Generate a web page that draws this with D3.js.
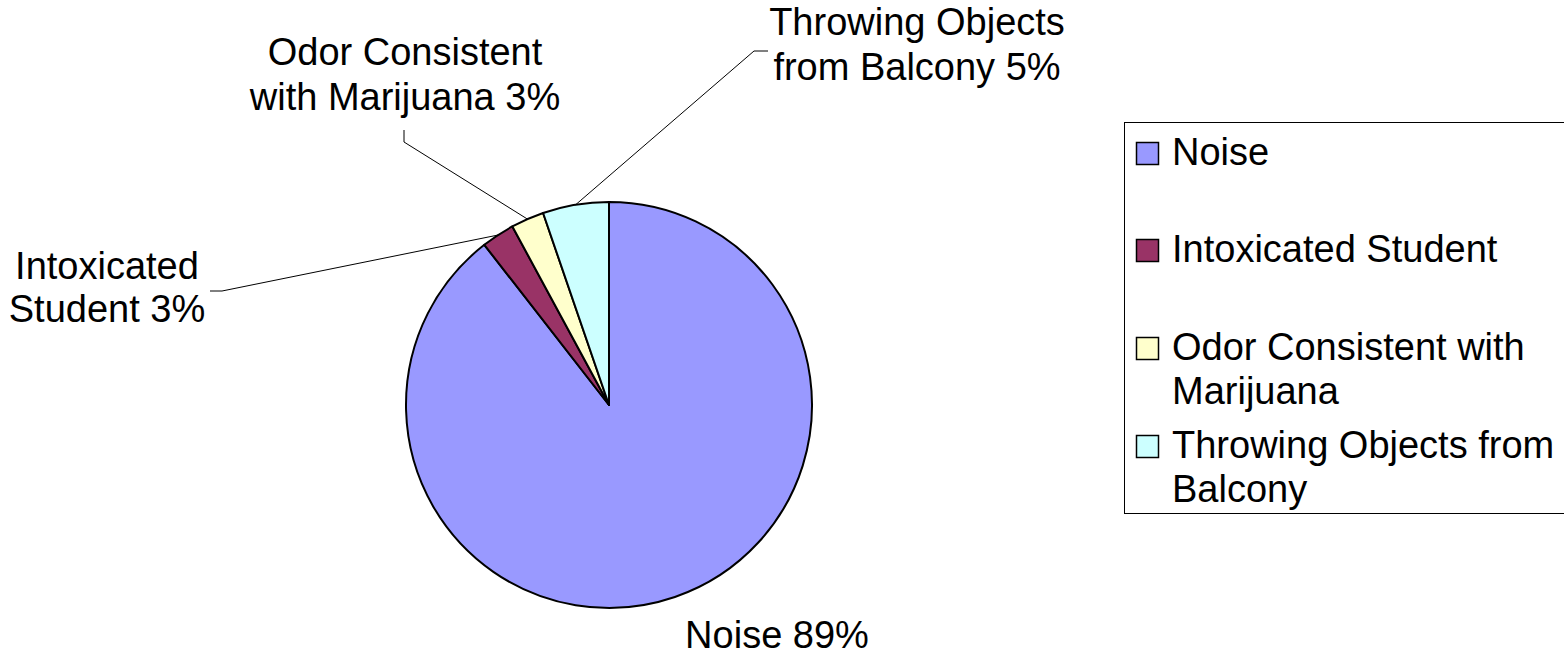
<!DOCTYPE html>
<html>
<head>
<meta charset="utf-8">
<script src="https://cdn.jsdelivr.net/npm/d3@7"></script>
<style>
  html, body { margin: 0; padding: 0; background: #fff; }
  svg { display: block; }
  text { font-family: "Liberation Sans", Arial, sans-serif; fill: #000; }
</style>
</head>
<body>
<svg id="chart" width="1564" height="655"></svg>
<script>
// ---- data ----
const categories = ["Noise", "Intoxicated Student", "Odor Consistent with Marijuana", "Throwing Objects from Balcony"];
const counts = [34, 1, 1, 2];
const colors = ["#9999FF", "#993366", "#FFFFCC", "#CCFFFF"];
// label text lines (name part, percentage appended from data)
const labelNameLines = [["Noise"], ["Intoxicated", "Student"], ["Odor Consistent", "with Marijuana"], ["Throwing Objects", "from Balcony"]];
const legendLines = [["Noise"], ["Intoxicated Student"], ["Odor Consistent with", "Marijuana"], ["Throwing Objects from", "Balcony"]];

// ---- layout ----
const W = 1564, H = 655;
const cx = 609, cy = 405, R = 203;
const fontSize = 38;
const labelLayout = [
  { x: 777, y: 648, lh: 44, pts: null },
  { x: 107, y: 279, lh: 43, pts: [[222, 291], [210, 291]] },
  { x: 405, y: 65, lh: 45, pts: [[404, 142], [404, 130]] },
  { x: 917, y: 35, lh: 45, pts: [[754, 51], [768, 51]] }
];

const svg = d3.select("#chart");
const total = d3.sum(counts);
const pct = counts.map(v => Math.round(100 * v / total) + "%");

const pie = d3.pie().sort(null).value(d => d).startAngle(0).endAngle(2 * Math.PI);
const arcs = pie(counts);
const arc = d3.arc().innerRadius(0).outerRadius(R);
const edgeArc = d3.arc().innerRadius(R).outerRadius(R);

const g = svg.append("g").attr("transform", `translate(${cx},${cy})`);
g.selectAll("path.slice").data(arcs).join("path")
  .attr("class", "slice")
  .attr("d", arc)
  .attr("fill", (d, i) => colors[i])
  .attr("stroke", "#000")
  .attr("stroke-width", 2)
  .attr("stroke-linejoin", "round");

// leader lines
arcs.forEach((a, i) => {
  const L = labelLayout[i];
  if (!L.pts) return;
  const c = edgeArc.centroid(a);
  const pts = [[c[0] + cx, c[1] + cy]].concat(L.pts);
  svg.append("path")
    .attr("d", d3.line()(pts))
    .attr("fill", "none")
    .attr("stroke", "#000")
    .attr("stroke-width", 1);
});

// data labels
labelNameLines.forEach((lines, i) => {
  const L = labelLayout[i];
  const ls = lines.slice();
  ls[ls.length - 1] = ls[ls.length - 1] + " " + pct[i];
  const t = svg.append("text")
    .attr("text-anchor", "middle")
    .attr("font-size", fontSize);
  ls.forEach((s, j) => {
    t.append("tspan").attr("x", L.x).attr("y", L.y + j * L.lh).text(s);
  });
});

// legend
const legX = 1124, legY = 122, legH = 391;
svg.append("rect")
  .attr("x", legX + 0.5).attr("y", legY + 0.5)
  .attr("width", 460).attr("height", legH)
  .attr("fill", "#fff").attr("stroke", "#000").attr("stroke-width", 1);

const legBase = [165, 262, 360, 458];
legendLines.forEach((lines, i) => {
  const b = legBase[i];
  svg.append("rect")
    .attr("x", 1136.5).attr("y", b - 22.5)
    .attr("width", 22).attr("height", 22)
    .attr("fill", colors[i]).attr("stroke", "#000").attr("stroke-width", 1.5);
  const t = svg.append("text").attr("font-size", fontSize);
  lines.forEach((s, j) => {
    t.append("tspan").attr("x", 1172).attr("y", b + j * 43.5).text(s);
  });
});
</script>
</body>
</html>
